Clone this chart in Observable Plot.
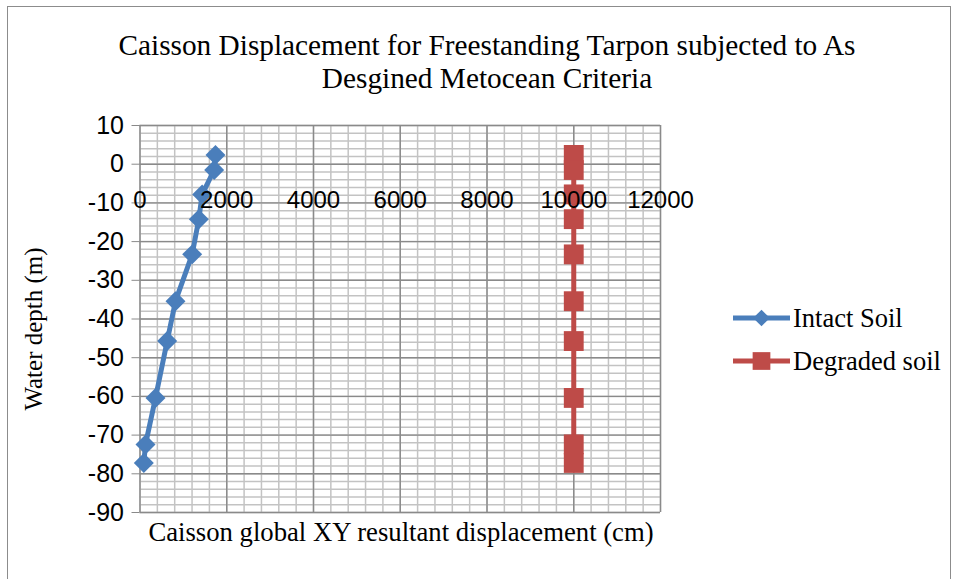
<!DOCTYPE html>
<html>
<head>
<meta charset="utf-8">
<script src="https://cdn.jsdelivr.net/npm/d3@7"></script>
<script src="https://cdn.jsdelivr.net/npm/@observablehq/plot@0.6"></script>
<style>
  html, body { margin: 0; padding: 0; background: #fff; }
  #chart { position: relative; width: 960px; height: 579px; overflow: hidden; }
  #frame { position: absolute; left: 7px; top: 6px; width: 944px; height: 620px; border: 1.5px solid #8c8c8c; box-sizing: border-box; pointer-events: none; }
</style>
</head>
<body>
<div id="chart"><div id="frame"></div></div>
<script>
// Water depth (m) of each caisson output station
const depths = [2.4, -1.5, -7.8, -14.2, -23.3, -35.4, -45.7, -60.4, -72.4, -77.2];
// Caisson global XY resultant displacement (cm)
const intactSoil = [1740, 1710, 1433, 1356, 1203, 818, 627, 357, 127, 88];
const degradedSoil = [10000, 10000, 10000, 10000, 10000, 10000, 10000, 10000, 10000, 10000];

const xTicks = [0, 2000, 4000, 6000, 8000, 10000, 12000];
const yTicks = [10, 0, -10, -20, -30, -40, -50, -60, -70, -80, -90];
const xMinor = d3.range(0, 12001, 400);
const yMinor = d3.range(-90, 11, 2);

const seriesNames = ["Intact Soil", "Degraded soil"];
const seriesColors = ["#4a7ebb", "#be4b48"];

const intact = depths.map((d, i) => ({depth: d, disp: intactSoil[i]}));
const degraded = depths.map((d, i) => ({depth: d, disp: degradedSoil[i]}));

const tickFont = "Liberation Sans, Arial, sans-serif";
const serif = "Liberation Serif, Times New Roman, serif";

const svg = Plot.plot({
  width: 960,
  height: 579,
  marginLeft: 139.5,
  marginRight: 300,
  marginTop: 125,
  marginBottom: 67,
  style: {background: "transparent", fontFamily: tickFont},
  x: {domain: [0, 12000], axis: null},
  y: {domain: [-90, 10], axis: null},
  marks: [
    // minor grid
    Plot.ruleX(xMinor, {stroke: "#c3c3c3", strokeWidth: 1.5}),
    Plot.ruleY(yMinor, {stroke: "#c3c3c3", strokeWidth: 1.5}),
    // major grid
    Plot.ruleX(xTicks, {stroke: "#8a8a8a", strokeWidth: 1.4}),
    Plot.ruleY(yTicks, {stroke: "#8a8a8a", strokeWidth: 1.4}),
    // value axis with outward ticks
    Plot.axisY({ticks: yTicks, label: null, tickSize: 8, tickPadding: 8, stroke: "#8a8a8a", fill: "#000", fontSize: 25, tickFormat: d => String(d)}),
    // series
    Plot.line(degraded, {x: "disp", y: "depth", stroke: seriesColors[1], strokeWidth: 5}),
    Plot.dot(degraded, {x: "disp", y: "depth", symbol: "square", r: 11.2, fill: seriesColors[1], stroke: null}),
    Plot.line(intact, {x: "disp", y: "depth", stroke: seriesColors[0], strokeWidth: 5}),
    Plot.dot(intact, {x: "disp", y: "depth", symbol: "diamond2", r: 9, fill: seriesColors[0], stroke: null}),
    // category labels hang off the zero line, drawn over the series
    Plot.text(xTicks, {x: d => d, y: 0, dy: 36, text: d => String(d), fontSize: 24, fill: "#000", fontFamily: tickFont})
  ]
});

const root = d3.select(svg);

// title
const title = root.append("text")
  .attr("font-family", serif).attr("font-size", 29.3).attr("text-anchor", "middle").attr("fill", "#000");
title.append("tspan").attr("x", 487).attr("y", 55).text("Caisson Displacement for Freestanding Tarpon subjected to As");
title.append("tspan").attr("x", 487).attr("y", 88).text("Desgined Metocean Criteria");

// axis titles
root.append("text")
  .attr("font-family", serif).attr("font-size", 25).attr("text-anchor", "middle")
  .attr("transform", "translate(42,329) rotate(-90)")
  .text("Water depth (m)");
root.append("text")
  .attr("font-family", serif).attr("font-size", 26.7).attr("text-anchor", "middle")
  .attr("x", 401).attr("y", 541)
  .text("Caisson global XY resultant displacement (cm)");

// legend
const legendSymbols = [d3.symbolDiamond2, d3.symbolSquare];
const legendSizes = [Math.PI * 7.5 * 7.5, Math.PI * 10 * 10];
seriesNames.forEach((name, i) => {
  const g = root.append("g").attr("transform", `translate(733,${318 + i * 43})`);
  g.append("line").attr("x1", 0).attr("x2", 57).attr("y1", 0).attr("y2", 0)
    .attr("stroke", seriesColors[i]).attr("stroke-width", 5);
  g.append("path").attr("transform", "translate(28.5,0)")
    .attr("d", d3.symbol(legendSymbols[i], legendSizes[i])()).attr("fill", seriesColors[i]);
  g.append("text").attr("x", 60).attr("y", 0).attr("dy", "0.35em").attr("text-anchor", "start")
    .attr("font-family", serif).attr("font-size", 26.5).text(name);
});

document.getElementById("chart").appendChild(svg);
svg.style.position = "absolute";
svg.style.left = "0";
svg.style.top = "0";
</script>
</body>
</html>
